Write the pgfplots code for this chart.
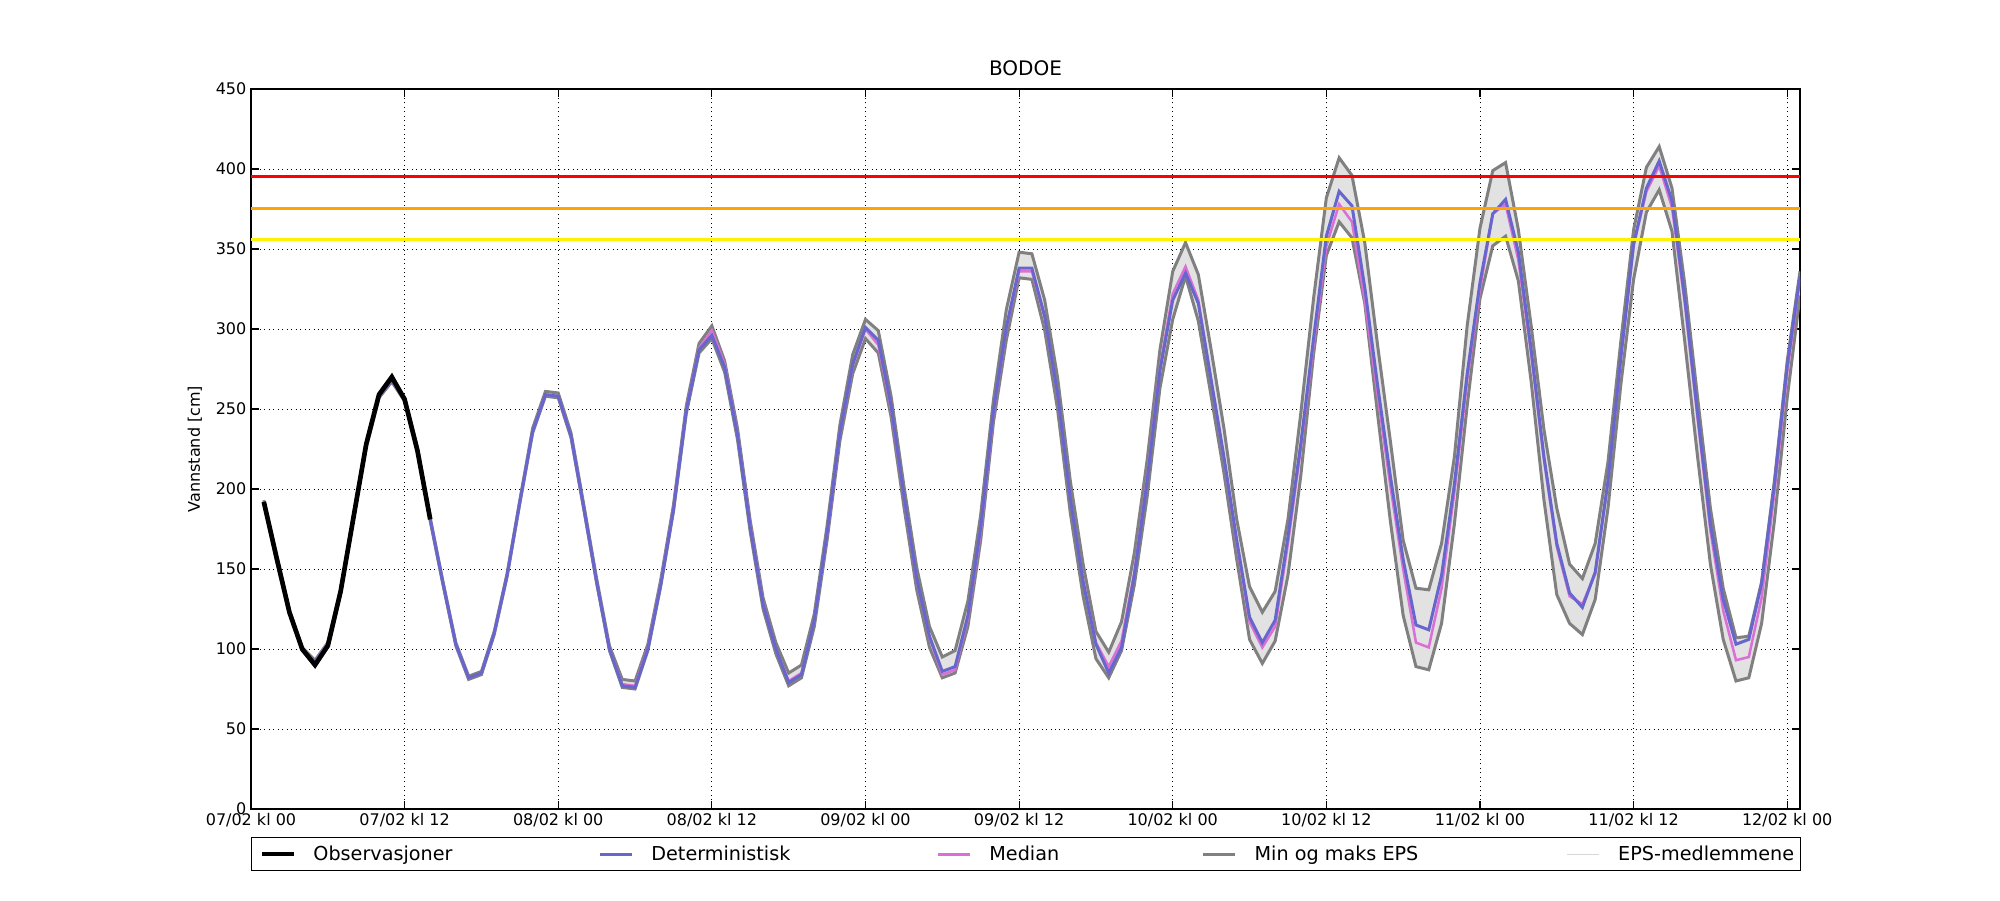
\documentclass[border=0pt]{standalone}
\usepackage{fontspec}
\setmainfont{DejaVu Sans}
\usepackage{pgfplots}
\usepackage{pgfplotstable}
\pgfplotsset{compat=1.18}
\usepgfplotslibrary{fillbetween}

\definecolor{detcol}{RGB}{102,102,204}
\definecolor{medcol}{RGB}{218,112,214}
\definecolor{mmcol}{RGB}{128,128,128}
\definecolor{epscol}{RGB}{226,226,226}
\definecolor{epsline}{RGB}{215,215,215}
\definecolor{orangecol}{RGB}{255,165,0}

\newcommand{\lgd}[4]{\makebox[#1][l]{\textcolor{#2}{\rule[\dimexpr 4.9pt-#3/2\relax]{24pt}{#3}}\hspace{14.4pt}#4}}

\pgfplotstableread{
h v
1 192
2 157
3 123
4 100
5 90
6 102
7 136
8 182
9 228
10 259
11 270
12 256
13 224
14 181
}\obs

\pgfplotstableread{
h det med max min
1 192 192 193 191
2 156 156 157 155
3 123 123 124 122
4 100 100 101 99
5 92 92 93 91
6 103 103 104 102
7 136 136 137 135
8 182 182 183 181
9 227 227 228 226
10 258 258 259 257
11 268 268 269 267
12 256 256 257 255
13 225 225 226 224
14 181 181 182 180
15 141 141 142 140
16 103 103 104 102
17 82 82 83 81
18 85 85 86 84
19 110 110 111 109
20 146 146 147 145
21 192 192 193 191
22 236 236 238 235
23 259 259 261 258
24 258 258 260 257
25 233 233 235 232
26 188 188 190 187
27 142 142 144 141
28 100 100 102 99
29 77 78 81 76
30 76 77 80 75
31 100 101 103 99
32 140 141 143 139
33 187 188 190 186
34 249 250 252 247
35 287 288 291 285
36 296 299 302 294
37 276 278 280 273
38 234 235 238 231
39 176 177 180 173
40 128 129 132 125
41 100 100 104 97
42 79 80 85 77
43 84 85 90 82
44 118 118 122 114
45 172 171 177 168
46 235 234 240 230
47 278 277 284 272
48 301 300 306 294
49 293 290 299 285
50 252 250 258 245
51 196 195 202 189
52 144 143 151 137
53 108 107 114 101
54 86 84 95 82
55 89 87 99 85
56 121 119 130 114
57 176 173 184 168
58 249 247 256 242
59 301 300 312 293
60 338 336 348 332
61 338 336 347 331
62 308 307 318 299
63 260 259 270 250
64 194 194 205 185
65 142 143 153 133
66 103 104 111 94
67 85 89 98 82
68 101 105 117 99
69 146 148 160 140
70 205 207 218 195
71 274 276 287 263
72 318 322 336 306
73 335 339 354 333
74 316 318 334 305
75 268 268 287 258
76 220 219 238 210
77 168 166 181 156
78 120 117 139 106
79 104 101 123 91
80 118 114 136 105
81 170 166 181 146
82 228 225 247 208
83 294 290 319 284
84 358 352 382 346
85 386 378 407 367
86 377 367 396 357
87 326 318 354 316
88 265 259 290 247
89 208 202 230 180
90 156 150 168 121
91 115 104 138 89
92 112 101 137 87
93 146 138 166 116
94 203 198 220 178
95 272 268 302 252
96 329 325 363 319
97 372 372 399 352
98 381 378 404 358
99 348 343 362 330
100 287 284 302 267
101 220 218 237 193
102 166 164 188 134
103 135 133 153 116
104 126 128 144 109
105 148 147 166 131
106 205 204 217 188
107 282 281 292 265
108 353 352 362 331
109 388 386 401 373
110 405 402 414 387
111 380 376 388 361
112 319 316 328 292
113 247 244 257 220
114 178 174 188 153
115 131 124 138 106
116 103 93 107 80
117 106 95 108 82
118 141 132 142 116
119 203 198 205 180
120 277 273 280 257
121 333 331 336 321
}\fc

\begin{document}
\begin{tikzpicture}
\begin{axis}[
  scale only axis, width=1161.75pt, height=540pt,
  xmin=0, xmax=121, ymin=0, ymax=450,
  xtick={0,12,...,120},
  xticklabels={07/02 kl 00,07/02 kl 12,08/02 kl 00,08/02 kl 12,09/02 kl 00,09/02 kl 12,10/02 kl 00,10/02 kl 12,11/02 kl 00,11/02 kl 12,12/02 kl 00},
  ytick={0,50,...,450},
  grid=major,
  grid style={black, line width=0.6pt, dash pattern=on 0.75pt off 2.6pt},
  axis line style={black, line width=1pt},
  major tick length=6pt,
  tick style={black, line width=0.8pt},
  tick label style={font=\fontsize{12}{14}\selectfont},
  /pgf/number format/assume math mode=true,
  ylabel={Vannstand [cm]},
  ylabel style={at={(axis description cs:-0.0362,0.5)}, anchor=center, font=\fontsize{12}{14}\selectfont},
  title={BODOE},
  title style={font=\fontsize{15}{18}\selectfont, anchor=base, yshift=4pt},
  legend columns=5,
  legend cell align=left,
  legend style={at={(0,-0.0389)}, anchor=north west, draw=black, line width=1pt,
    inner xsep=7.9pt, inner ysep=6.2pt, column sep=0pt,
    font=\fontsize{14.4}{17}\selectfont, nodes={inner sep=0pt},
    /tikz/every odd column/.style={column sep=0pt},
    /tikz/every even column/.style={column sep=0pt}},
  legend image code/.code={},
]
\addlegendimage{black}
\addlegendentry{\lgd{253.5pt}{black}{3.5pt}{Observasjoner}}
\addlegendimage{detcol}
\addlegendentry{\lgd{253.5pt}{detcol}{2.25pt}{Deterministisk}}
\addlegendimage{medcol}
\addlegendentry{\lgd{198.9pt}{medcol}{2.25pt}{Median}}
\addlegendimage{mmcol}
\addlegendentry{\lgd{272.7pt}{mmcol}{2.25pt}{Min og maks EPS}}
\addlegendimage{epsline}
\addlegendentry{\lgd{167.2pt}{epsline}{0.6pt}{EPS-medlemmene}}

\addplot[name path=U, draw=none, forget plot] table[x=h,y=max]{\fc};
\addplot[name path=L, draw=none, forget plot] table[x=h,y=min]{\fc};
\addplot[fill=epscol, draw=none, forget plot] fill between[of=U and L];
\addplot[mmcol, line width=2.25pt, forget plot] table[x=h,y=max]{\fc};
\addplot[mmcol, line width=2.25pt, forget plot] table[x=h,y=min]{\fc};
\addplot[medcol, line width=1.9pt, forget plot] table[x=h,y=med]{\fc};
\addplot[detcol, line width=2.25pt, forget plot] table[x=h,y=det]{\fc};
\addplot[black, line width=3.5pt, forget plot] table[x=h,y=v]{\obs};
\addplot[red, line width=2.25pt, forget plot] coordinates {(0,395) (121,395)};
\addplot[orangecol, line width=2.25pt, forget plot] coordinates {(0,375) (121,375)};
\addplot[yellow, line width=2.25pt, forget plot] coordinates {(0,356) (121,356)};
\end{axis}
\pgfresetboundingbox
\path[use as bounding box] ([xshift=-188.25pt,yshift=-68.25pt]current axis.south west) rectangle ([xshift=150pt,yshift=66.75pt]current axis.north east);
\end{tikzpicture}
\end{document}
